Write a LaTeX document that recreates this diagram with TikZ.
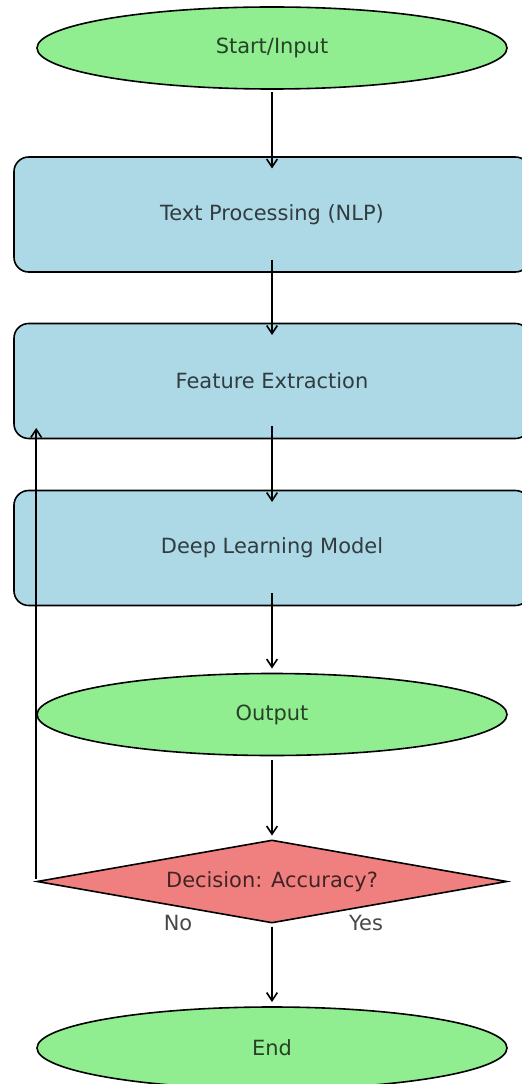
\documentclass[tikz,border=0pt]{standalone}
\usepackage{fontspec}
\setmainfont{DejaVu Sans}
\usetikzlibrary{shapes.geometric,arrows.meta}
\definecolor{lgreen}{HTML}{90EE90}
\definecolor{lblue}{HTML}{ADD8E6}
\definecolor{lcoral}{HTML}{F08080}
\tikzset{
  base/.style={draw=black,line width=1.2pt,font=\fontsize{15.7}{18}\selectfont,text=black,text opacity=0.72,inner sep=0pt},
  termbox/.style={base,ellipse,fill=lgreen,minimum width=352.5pt,minimum height=61.5pt},
  procbox/.style={base,rectangle,rounded corners=11pt,fill=lblue,minimum width=387pt,minimum height=86.25pt},
  decbox/.style={base,diamond,shape aspect=5.66,fill=lcoral,minimum width=352.5pt,minimum height=62.25pt},
  lbl/.style={font=\fontsize{15.7}{18}\selectfont,text=black,text opacity=0.72,inner sep=0pt},
  conn/.style={line width=1.2pt,-{Straight Barb[length=6pt,width=8pt,line width=1.2pt]}}
}
\begin{document}
\begin{tikzpicture}[x=0.75pt,y=-0.75pt]
\useasboundingbox (0,0) rectangle (521,1084);
\node[termbox] (start) at (272,48) {Start/Input};
\node[procbox] (text) at (272,214.5) {Text Processing (NLP)};
\node[procbox] (feat) at (272,381) {Feature Extraction};
\node[procbox] (deep) at (272,548) {Deep Learning Model};
\node[termbox] (out) at (272,714.5) {Output};
\node[decbox] (dec) at (272,881.5) {Decision: Accuracy?};
\node[termbox] (end) at (272,1048) {End};
\node[lbl] (no) at (178,923) {No};
\node[lbl] (yes) at (366,923) {Yes};
\draw[conn] ([yshift=-44*0.75pt]start.center) -- ([yshift=46*0.75pt]text.center);
\draw[conn] ([yshift=-45*0.75pt]text.center) -- ([yshift=46*0.75pt]feat.center);
\draw[conn] ([yshift=-45*0.75pt]feat.center) -- ([yshift=46*0.75pt]deep.center);
\draw[conn] ([yshift=-45*0.75pt]deep.center) -- ([yshift=46*0.75pt]out.center);
\draw[conn] ([yshift=-45*0.75pt]out.center) -- ([yshift=46*0.75pt]dec.center);
\draw[conn] ([yshift=-45*0.75pt]dec.center) -- ([yshift=46*0.75pt]end.center);
\coordinate (fb) at ([yshift=-47*0.75pt]feat.center);
\draw[conn] ([yshift=3*0.75pt]dec.west) -- (dec.west |- fb);
\end{tikzpicture}
\end{document}
